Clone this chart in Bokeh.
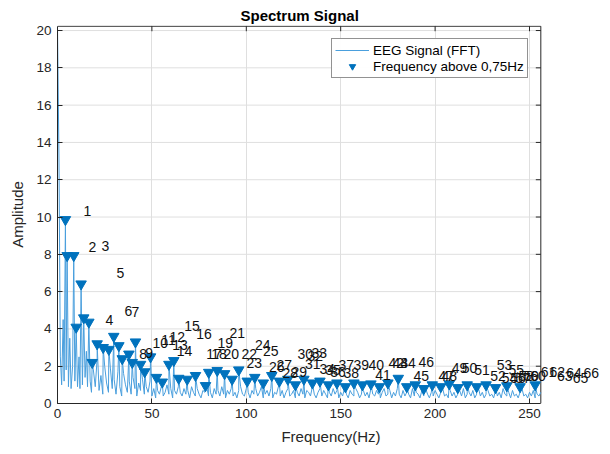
from bokeh.plotting import figure
from bokeh.models import (Range1d, ColumnDataSource, LabelSet, Legend, LegendItem, FixedTicker)
from bokeh.core.properties import value
from bokeh.embed import file_html
from bokeh.resources import INLINE

# ---------------- data ----------------
title_text = "Spectrum Signal"
x_label = "Frequency(Hz)"
y_label = "Amplitude"
x_max = 256
y_max = 20.23
x_ticks = [0, 50, 100, 150, 200, 250]
y_ticks = [0, 2, 4, 6, 8, 10, 12, 14, 16, 18, 20]

# low-frequency part of the spectrum (Hz, amplitude)
head_freq = [0, 0.8, 1.5, 2.2, 3.0, 3.5, 4.2, 4.6, 5.1, 5.8, 6.5, 7.2, 8.0, 8.6, 9.2, 9.9,
             10.6, 11.4, 11.9, 12.5, 13.2, 13.9, 14.6, 15.3, 15.9, 16.6, 17.3]
head_amp = [20.2, 12.9, 2.5, 1.0, 4.5, 1.2, 9.86, 1.8, 7.93, 0.9, 3.5, 0.8, 2.0, 7.93, 1.2, 4.09,
            0.9, 2.5, 0.8, 6.41, 1.0, 4.59, 1.4, 2.8, 0.9, 4.36, 1.2]

# spectrum between the peaks, 1 Hz steps from 18 Hz to 256 Hz
tail_start = 18
tail_amp = [
    0.6, 1.8, 0.9, 2.4, 0.7, 1.5, 0.5, 2.0, 1.1, 0.6, 1.9, 0.8,
    1.3, 0.5, 1.7, 0.9, 0.4, 1.6, 1.0, 0.6, 1.2, 0.5, 1.4, 0.8, 0.4, 1.1, 0.7, 1.3, 0.5, 0.9, 0.6, 1.2,
    0.4, 0.8, 0.3, 0.7, 0.5, 0.9, 0.4, 0.6, 1.0, 0.5, 0.8, 0.3, 0.7, 0.5, 0.9, 0.6, 0.4, 0.8, 0.5, 0.7,
    0.3, 0.9, 0.6, 0.4, 0.8, 0.5, 0.3, 0.7, 0.6, 0.9, 0.4, 0.6, 0.3, 0.8, 0.5, 0.7, 0.4, 0.9, 0.5, 0.3,
    0.7, 0.5, 0.8, 0.4, 0.6, 0.3, 0.7, 0.9, 0.5, 0.4, 0.8, 0.6, 0.3, 0.7, 0.5, 0.8, 0.4, 0.6, 0.9, 0.3,
    0.5, 0.7, 0.4, 0.8, 0.3, 0.6, 0.5, 0.9, 0.4, 0.7, 0.3, 0.6, 0.8, 0.4, 0.5, 0.7, 0.3, 0.6, 0.4, 0.8,
    0.5, 0.3, 0.7, 0.6, 0.4, 0.9, 0.5, 0.3, 0.6, 0.8, 0.4, 0.7, 0.5, 0.3, 0.6, 0.4, 0.8, 0.5, 0.7, 0.3,
    0.6, 0.4, 0.8, 0.5, 0.3, 0.7, 0.5, 0.4, 0.8, 0.6, 0.3, 0.5, 0.7, 0.4, 0.6, 0.3, 0.8, 0.5, 0.4, 0.7,
    0.5, 0.3, 0.6, 0.8, 0.4, 0.5, 0.7, 0.3, 0.6, 0.4, 0.8, 0.5, 0.3, 0.7, 0.4, 0.6, 0.5, 0.3, 0.8, 0.4,
    0.6, 0.5, 0.3, 0.7, 0.4, 0.8, 0.5, 0.3, 0.6, 0.4, 0.7, 0.5, 0.3, 0.6, 0.8, 0.4, 0.5, 0.3, 0.7, 0.4,
    0.6, 0.3, 0.5, 0.7, 0.4, 0.8, 0.3, 0.5, 0.6, 0.4, 0.7, 0.3, 0.5, 0.8, 0.4, 0.6, 0.3, 0.5, 0.7, 0.4,
    0.5, 0.3, 0.7, 0.4, 0.6, 0.3, 0.8, 0.5, 0.4, 0.6, 0.3, 0.7, 0.4, 0.5, 0.3, 0.6, 0.8, 0.4, 0.5, 0.3,
    0.6, 0.4, 0.7, 0.3, 0.5, 0.4, 0.6,
]

# detected peaks (Hz, amplitude)
peak_freq = [4.2, 5.1, 8.6, 9.9, 12.5, 13.9, 16.6, 18.4, 21.0, 24.2, 27.2, 29.8, 32.5, 34.3,
             37.8, 39.6, 41.3, 44.0, 46.2, 49.3, 52.4, 55.5, 59.0, 61.6, 64.2, 68.7, 73.1, 78.4,
             80.1, 84.6, 88.5, 92.5, 96.0, 100.5, 104.5, 109.0, 113.5, 117.5, 122.0, 126.0,
             130.5, 135.0, 139.0, 143.5, 148.0, 152.5, 157.0, 161.5, 166.0, 170.5, 175.0, 180.5,
             185.0, 189.5, 194.0, 198.5, 203.0, 207.5, 212.0, 217.0, 222.0, 227.0, 232.0, 238.0,
             245.0, 253.0]
peak_amp = [9.86, 7.93, 7.93, 4.09, 6.41, 4.59, 4.36, 2.2, 3.2, 3.0, 2.9, 3.6, 3.1, 2.4,
            2.65, 2.2, 3.3, 2.1, 1.7, 2.5, 1.4, 1.15, 2.1, 2.3, 1.35, 1.3, 1.5, 0.96,
            1.67, 1.77, 1.6, 1.3, 1.8, 1.2, 1.4, 1.1, 1.5, 1.2, 1.3, 1.0,
            1.3, 1.1, 1.2, 1.0, 1.1, 0.9, 1.1, 1.0, 1.05, 0.9, 1.1, 1.35,
            0.9, 1.0, 0.8, 1.0, 0.9, 1.05, 0.85, 1.0, 0.9, 1.0, 0.85, 0.95,
            0.9, 1.0]

# positions of the peak number labels as drawn
label_x = [13.8, 16.4, 23.3, 25.4, 31.3, 35.5, 39.2, 43.3, 46.5, 50.3, 54.9, 59.3, 60.8, 63.2,
           67.1, 73.5, 78.8, 81.4, 84.7, 87.9, 91.1, 97.5, 100.1, 104.6, 108.8, 112.0, 116.0,
           119.2, 123.9, 127.1, 131.1, 132.4, 134.5, 138.8, 141.8, 144.4, 148.8, 151.5, 156.8,
           164.7, 168.3, 175.3, 177.4, 181.5, 188.6, 191.2, 201.8, 203.4, 208.8, 214.1, 220.7,
           229.2, 232.7, 235.3, 238.9, 239.8, 242.4, 244.2, 246.8, 250.4, 256.0, 260.6, 264.5,
           269.4, 272.9, 278.6]
label_y = [10.34, 8.41, 8.47, 4.50, 7.02, 4.98, 4.93, 2.68, 2.73, 3.22, 3.38, 3.54, 3.16, 2.84,
           4.18, 3.75, 2.68, 2.68, 3.22, 2.68, 3.80, 2.68, 2.17, 3.16, 2.79, 1.96, 2.04,
           1.66, 1.69, 2.63, 2.14, 2.57, 2.73, 1.85, 1.82, 1.69, 2.04, 1.66, 2.09,
           2.04, 1.55, 2.16, 2.16, 2.16, 1.45, 2.25, 1.45, 1.50, 1.88, 1.93, 1.82,
           1.50, 2.04, 1.39, 1.77, 1.39, 1.39, 1.45, 1.45, 1.50, 1.71, 1.71, 1.45,
           1.66, 1.39, 1.66]
label_text = [str(i + 1) for i in range(len(label_x))]

series_names = ["EEG Signal (FFT)", "Frequency above 0,75Hz"]

# ---------------- build line ----------------
pts = list(zip(head_freq, head_amp))
pts += [(tail_start + i, a) for i, a in enumerate(tail_amp)]
pts += [(f, a) for f, a in zip(peak_freq, peak_amp) if f >= tail_start]
pts.sort(key=lambda t: t[0])
line_freq = [t[0] for t in pts]
line_amp = [t[1] for t in pts]

# ---------------- layout ----------------
FONT = "Liberation Sans"
DARK = "#262626"
W, H = 608, 452
FRAME_L, FRAME_T, FRAME_B, FRAME_R = 57, 25, 403, 604
PX_PER_X = 1.888                     # pixels per Hz in the box
x_view_max = (FRAME_R - FRAME_L) / PX_PER_X   # frame wider than box, room for labels
y_view_max = y_max + 0.04
px_per_y = (FRAME_B - FRAME_T) / y_view_max
tick_dx = 5 / PX_PER_X
tick_dy = 5 / px_per_y

p = figure(width=W, height=H, output_backend="svg", toolbar_location=None,
           x_range=Range1d(0, x_view_max), y_range=Range1d(0, y_view_max),
           min_border_left=FRAME_L, min_border_right=W - FRAME_R,
           min_border_top=FRAME_T, min_border_bottom=H - FRAME_B,
           title=title_text)
p.background_fill_color = "white"
p.border_fill_color = "white"
p.outline_line_color = None

p.title.align = "left"
p.title.offset = 183
p.title.standoff = 4
p.title.text_font = FONT
p.title.text_font_size = "15px"
p.title.text_font_style = "bold"
p.title.text_color = "#000000"

for ax in (p.xaxis[0], p.yaxis[0]):
    ax.axis_line_color = DARK
    ax.major_tick_line_color = DARK
    ax.major_tick_in = 5
    ax.major_tick_out = 0
    ax.minor_tick_line_color = None
    ax.major_label_text_font = FONT
    ax.major_label_text_font_size = "13.5px"
    ax.major_label_text_color = DARK
    ax.axis_label_text_font = FONT
    ax.axis_label_text_font_size = "15px"
    ax.axis_label_text_font_style = "normal"
    ax.axis_label_text_color = DARK
p.xaxis.ticker = FixedTicker(ticks=x_ticks)
p.yaxis.ticker = FixedTicker(ticks=y_ticks)
p.xaxis.bounds = (0, x_max)
p.yaxis.bounds = (0, y_max)
p.xaxis.axis_label = x_label
p.yaxis.axis_label = y_label
p.xaxis.major_label_standoff = 5
p.yaxis.major_label_standoff = 6
p.xaxis.axis_label_standoff = 7
p.yaxis.axis_label_standoff = 7

# grid: vertical native, horizontal limited to the box
p.xgrid.ticker = FixedTicker(ticks=x_ticks)
p.xgrid.grid_line_color = "#dfdfdf"
p.ygrid.grid_line_color = None
gy = y_ticks[1:]
p.segment(x0=[0] * len(gy), x1=[x_max] * len(gy), y0=gy, y1=gy,
          line_color="#dfdfdf", line_width=1)

# top and right sides of the box with inward ticks
p.line(x=[0, x_max, x_max], y=[y_max, y_max, 0], line_color=DARK, line_width=1)
p.segment(x0=x_ticks, x1=x_ticks, y0=[y_max] * len(x_ticks),
          y1=[y_max - tick_dy] * len(x_ticks), line_color=DARK, line_width=1)
p.segment(x0=[x_max - tick_dx] * len(y_ticks), x1=[x_max] * len(y_ticks),
          y0=y_ticks, y1=y_ticks, line_color=DARK, line_width=1)

line_r = p.line(line_freq, line_amp, line_color="#4A9FDD", line_width=1)
pk_r = p.scatter(peak_freq, peak_amp, marker="inverted_triangle", size=10.5,
                 fill_color="#0072BD", line_color="#0072BD")

lab_src = ColumnDataSource(dict(x=label_x, y=label_y, t=label_text))
labels = LabelSet(x="x", y="y", text="t", source=lab_src, text_font=value(FONT),
                  text_font_size=value("14px"), text_color="#111111",
                  text_align="left", text_baseline="middle")
p.add_layout(labels)

legend = Legend(items=[LegendItem(label=series_names[0], renderers=[line_r]),
                       LegendItem(label=series_names[1], renderers=[pk_r])],
                location=(274, 325))
legend.label_text_font = FONT
legend.label_text_font_size = "13.5px"
legend.label_text_color = "#000000"
legend.border_line_color = DARK
legend.border_line_width = 1
legend.background_fill_color = "white"
legend.glyph_width = 34
legend.glyph_height = 16
legend.label_standoff = 4
legend.padding = 3
legend.spacing = 0
legend.margin = 0
p.add_layout(legend, "center")

open("out.html", "w").write(file_html(p, INLINE))
